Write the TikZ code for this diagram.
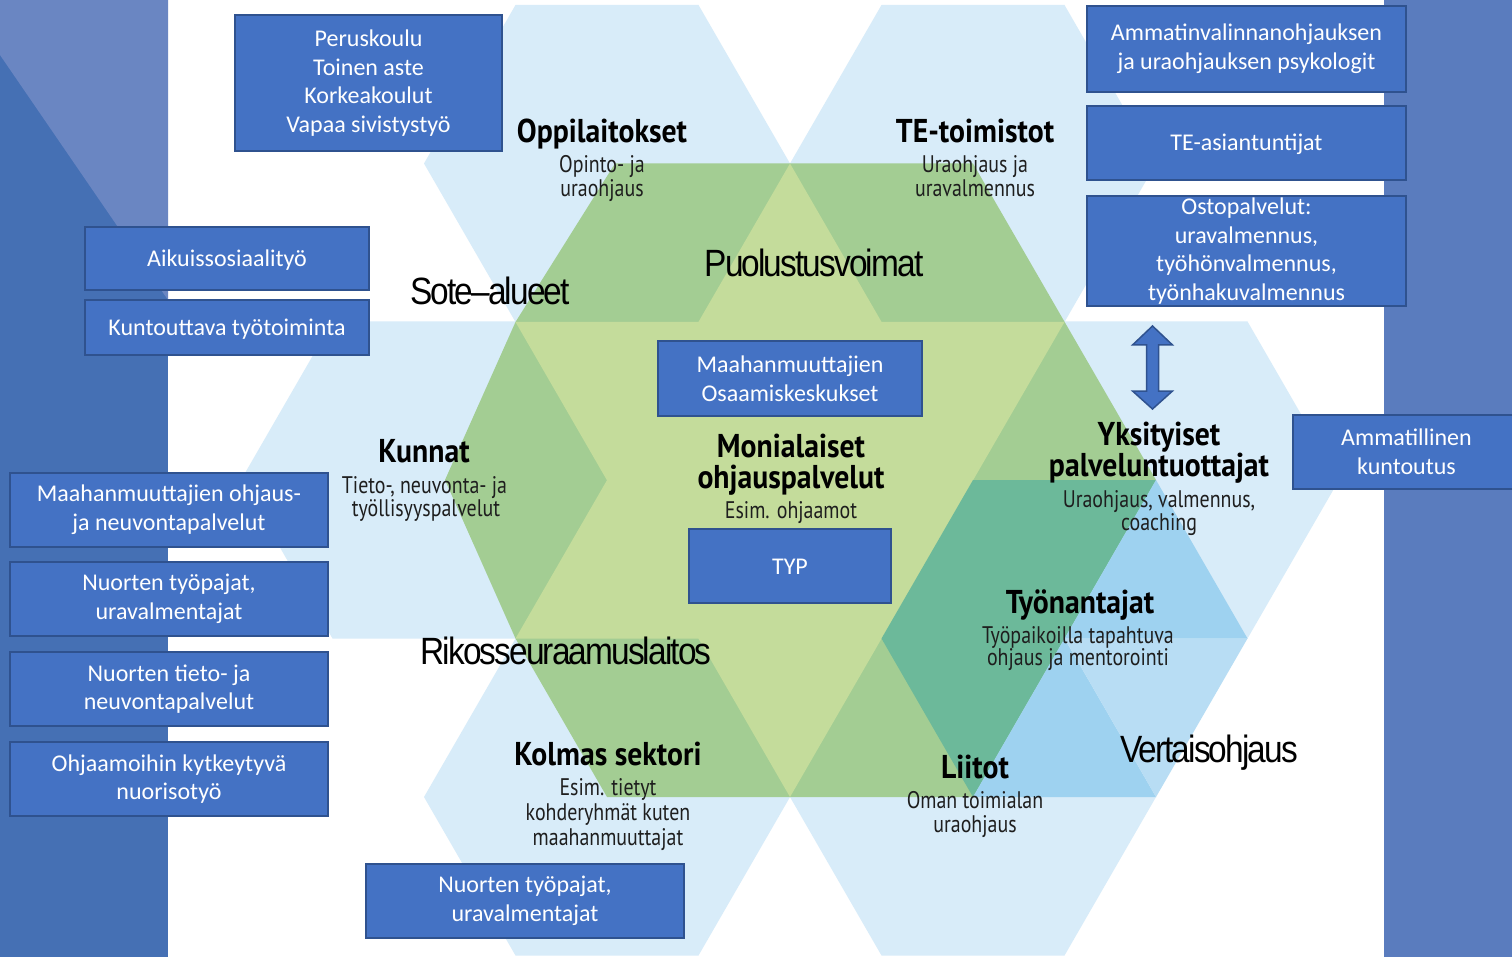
\documentclass[tikz,border=0pt]{standalone}
\usepackage{fontspec}
\setmainfont{Carlito}
\newfontfamily\boxfont{Carlito}
\newfontfamily\titlefont[FakeStretch=0.9]{PT Sans}
\newfontfamily\subfont[FakeStretch=0.83]{PT Sans}
\newfontfamily\bigfont[FakeStretch=0.88,LetterSpace=-5]{Liberation Sans}
\definecolor{lblue}{HTML}{D8ECF9}
\definecolor{grn}{HTML}{A3CD93}
\definecolor{ygrn}{HTML}{C4DC9B}
\definecolor{tealg}{HTML}{6CB99A}
\definecolor{mblue}{HTML}{9ED2F0}
\definecolor{pblue}{HTML}{B8DDF4}
\definecolor{boxfill}{HTML}{4472C4}
\definecolor{boxline}{HTML}{2F528F}
\definecolor{lpanel}{HTML}{4570B4}
\definecolor{lpanellight}{HTML}{6A86C2}
\definecolor{rpanel}{HTML}{5A7CBE}
\definecolor{labtext}{HTML}{1E1E1E}
\newcommand\hexat[2]{\fill[lblue] (#1,#2) ++(-183,0) -- ++(91.5,-158.5) -- ++(183,0) -- ++(91.5,158.5) -- ++(-91.5,158.5) -- ++(-183,0) -- cycle;}
\tikzset{
 box/.style={draw=boxline, fill=boxfill, line width=2pt, text=white, align=center, inner sep=0pt,
   font=\boxfont\fontsize{24}{28.6}\selectfont},
 onebox/.style={box,
   execute at begin node={\rule{0pt}{22pt}},
   execute at end node={\rule[-6pt]{0pt}{6pt}}},
 ttl/.style={anchor=base, inner sep=0pt, text=black, font=\titlefont\bfseries\fontsize{33}{33}\selectfont},
 sub/.style={anchor=base, inner sep=0pt, text=labtext, font=\subfont\fontsize{24}{24}\selectfont},
 biglab/.style={anchor=base, inner sep=0pt, text=black, font=\bigfont\fontsize{38}{38}\selectfont},
 arrowshape/.style={fill=boxfill, draw=boxline, line width=1.5pt, line join=miter}
}
\begin{document}
\begin{tikzpicture}[x=1pt,y=-1pt]
\useasboundingbox (0,0) rectangle (1512,957);
\clip (0,0) rectangle (1512,957);
\fill[white] (0,0) rectangle (1512,957);
% side panels
\fill[lpanel] (0,0) rectangle (168,957);
\fill[lpanellight] (0,0) -- (168,0) -- (168,300) -- (0,55) -- cycle;
\fill[rpanel] (1384,0) rectangle (1512,957);
% outer light blue hexagons
\hexat{607}{163.5}
\hexat{973}{163.5}
\hexat{424}{480}
\hexat{1156}{480}
\hexat{607}{797}
\hexat{973}{797}
% green big hexagon
\fill[grn] (615,163.5) -- (973,163.5) -- (1156,480) -- (973,797) -- (607,797) -- (515.5,638.5) -- (445,480) -- (515.5,322) -- cycle;
% yellow-green hexagram
\fill[ygrn] (790,163.5) -- (1064.5,638.5) -- (515.5,638.5) -- cycle;
\fill[ygrn] (790,797) -- (515.5,322) -- (1064.5,322) -- cycle;
% Tyonantajat hexagon overlaps
\fill[tealg] (973,480) -- (1156,480) -- (1064.5,638.5) -- (973,797) -- (881.5,638.5) -- cycle;
\fill[mblue] (1156,480) -- (1247.5,638.5) -- (1064.5,638.5) -- cycle;
\fill[mblue] (1064.5,638.5) -- (1156,797) -- (973,797) -- cycle;
\fill[pblue] (1064.5,638.5) -- (1247.5,638.5) -- (1156,797) -- cycle;

% labels
\node[ttl] (opp) at (602,143) {Oppilaitokset};
\node[sub] (opp1) at (602,173) {Opinto- ja};
\node[sub] (opp2) at (602,197) {uraohjaus};
\node[ttl] (te) at (975,143) {TE-toimistot};
\node[sub] (te1) at (975,173) {Uraohjaus ja};
\node[sub] (te2) at (975,197) {uravalmennus};
\node[biglab] (puol) at (814,277) {Puolustusvoimat};
\node[biglab] (sote) at (490,305) {Sote–alueet};
\node[ttl] (kun) at (424,462) {Kunnat};
\node[sub] (kun1) at (424.5,493) {Tieto-, neuvonta- ja};
\node[sub] (kun2) at (426,516) {työllisyyspalvelut};
\node[ttl] (mon) at (791,457) {Monialaiset};
\node[ttl] (mon2) at (791,488) {ohjauspalvelut};
\node[sub] (mon3) at (791,518) {Esim. ohjaamot};
\node[ttl] (yks) at (1159,445) {Yksityiset};
\node[ttl] (yks2) at (1159,476) {palveluntuottajat};
\node[sub] (yks3) at (1159,507) {Uraohjaus, valmennus,};
\node[sub] (yks4) at (1159,530) {coaching};
\node[ttl] (tyo) at (1080,613) {Työnantajat};
\node[sub] (tyo1) at (1078,643) {Työpaikoilla tapahtuva};
\node[sub] (tyo2) at (1078,665) {ohjaus ja mentorointi};
\node[biglab] (rikos) at (566,664) {Rikosseuraamuslaitos};
\node[ttl] (kol) at (608,765) {Kolmas sektori};
\node[sub] (kol1) at (608,795) {Esim. tietyt};
\node[sub] (kol2) at (608,820) {kohderyhmät kuten};
\node[sub] (kol3) at (608,845) {maahanmuuttajat};
\node[ttl] (lii) at (975,778) {Liitot};
\node[sub] (lii1) at (975,808) {Oman toimialan};
\node[sub] (lii2) at (975,832) {uraohjaus};
\node[biglab] (vert) at (1209,762) {Vertaisohjaus};

% boxes
\node[box, minimum width=267, minimum height=136, execute at begin node={\rule{0pt}{21pt}}] (peru) at (368.5,83) {Peruskoulu\\Toinen aste\\Korkeakoulut\\Vapaa sivistystyö};
\node[onebox, minimum width=284, minimum height=63] (aikuis) at (227,258.5) {Aikuissosiaalityö};
\node[onebox, minimum width=284, minimum height=55] (kunto) at (227,327.5) {Kuntouttava työtoiminta};
\node[box, minimum width=318, minimum height=74] (maahan) at (169,510) {Maahanmuuttajien ohjaus-\\ja neuvontapalvelut};
\node[box, minimum width=318, minimum height=74] (nuortp) at (169,599) {Nuorten työpajat,\\uravalmentajat};
\node[box, minimum width=318, minimum height=74] (nuorti) at (169,689) {Nuorten tieto- ja\\neuvontapalvelut};
\node[box, minimum width=318, minimum height=74] (ohjaamo) at (169,779) {Ohjaamoihin kytkeytyvä\\nuorisotyö};
\node[box, minimum width=264, minimum height=75] (osaam) at (790,378.5) {Maahanmuuttajien\\Osaamiskeskukset};
\node[onebox, minimum width=202, minimum height=74] (typ) at (790,566) {TYP};
\node[box, minimum width=318, minimum height=74] (nuortp2) at (525,901) {Nuorten työpajat,\\uravalmentajat};
\node[box, minimum width=319, minimum height=86] (psyk) at (1246.5,49) {Ammatinvalinnanohjauksen\\ja uraohjauksen psykologit};
\node[onebox, minimum width=319, minimum height=74] (teas) at (1246.5,143) {TE-asiantuntijat};
\node[box, minimum width=319, minimum height=110] (osto) at (1246.5,251) {Ostopalvelut:\\uravalmennus,\\työhönvalmennus,\\työnhakuvalmennus};
\node[box, minimum width=227, minimum height=74] (ammk) at (1406.5,452) {Ammatillinen\\kuntoutus};

% double arrow between Ostopalvelut and Yksityiset
\draw[arrowshape] (1152.5,326) -- (1172.5,345) -- (1158.5,345) -- (1158.5,391) -- (1172.5,391) -- (1152.5,409) -- (1132.5,391) -- (1146.5,391) -- (1146.5,345) -- (1132.5,345) -- cycle;
\end{tikzpicture}
\end{document}
